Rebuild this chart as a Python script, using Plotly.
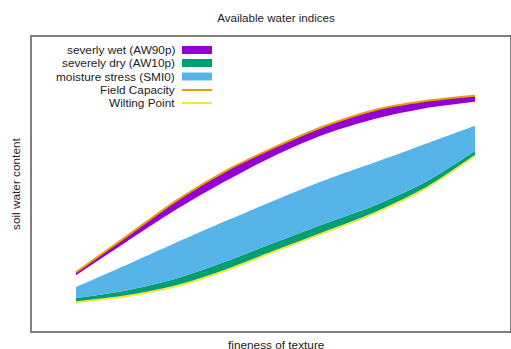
import plotly.graph_objects as go

# texture classes (index along x) and soil water content values
texture = [0, 1, 2, 3, 4, 5, 6, 7, 8]
field_capacity = [0.100, 0.160, 0.221, 0.272, 0.313, 0.349, 0.376, 0.391, 0.400]
aw90p = [0.095, 0.151, 0.206, 0.255, 0.299, 0.335, 0.361, 0.379, 0.390]
smi0 = [0.075, 0.112, 0.150, 0.187, 0.223, 0.257, 0.287, 0.318, 0.349]
aw10p = [0.056, 0.069, 0.089, 0.118, 0.151, 0.183, 0.214, 0.253, 0.306]
wilting_point = [0.049, 0.059, 0.076, 0.103, 0.136, 0.168, 0.201, 0.242, 0.298]

legend_names = ["severly wet (AW90p)", "severely dry (AW10p)", "moisture stress (SMI0)",
                "Field Capacity", "Wilting Point"]
colors = ["#9400d3", "#009e73", "#56b4e9", "#e69f00", "#f0e442"]

FONT = "Liberation Sans, Arial, sans-serif"
SH = dict(shape="spline", smoothing=0.8)
fig = go.Figure()

# purple band between AW90p and field capacity
fig.add_trace(go.Scatter(x=texture, y=aw90p, mode="lines", line=dict(width=0, **SH),
                         showlegend=False, hoverinfo="skip"))
fig.add_trace(go.Scatter(x=texture, y=field_capacity, mode="lines", line=dict(width=0, **SH),
                         fill="tonexty", fillcolor=colors[0], showlegend=False))
# green band between wilting point and AW10p
fig.add_trace(go.Scatter(x=texture, y=wilting_point, mode="lines", line=dict(width=0, **SH),
                         showlegend=False, hoverinfo="skip"))
fig.add_trace(go.Scatter(x=texture, y=aw10p, mode="lines", line=dict(width=0, **SH),
                         fill="tonexty", fillcolor=colors[1], showlegend=False))
# blue band between AW10p and SMI0
fig.add_trace(go.Scatter(x=texture, y=smi0, mode="lines", line=dict(width=0, **SH),
                         fill="tonexty", fillcolor=colors[2], showlegend=False))
# lines
fig.add_trace(go.Scatter(x=texture, y=field_capacity, mode="lines",
                         line=dict(width=2, color=colors[3], **SH), showlegend=False))
fig.add_trace(go.Scatter(x=texture, y=wilting_point, mode="lines",
                         line=dict(width=2, color=colors[4], **SH), showlegend=False))

# gnuplot-style legend: text right-aligned, sample on the right
L, R, T, B = 32, 510, 37, 331
def px(x):
    return (x - L) / (R - L)
def py(y):
    return (B - y) / (B - T)

rows = [50, 63, 76.5, 90, 103]
shapes = []
annotations = []
for i, (name, col, yy) in enumerate(zip(legend_names, colors, rows)):
    annotations.append(dict(x=px(177), y=py(yy), xref="paper", yref="paper",
                            text=name, showarrow=False, xanchor="right", yanchor="middle",
                            font=dict(family=FONT, size=11.8, color="#222")))
    if i < 3:
        shapes.append(dict(type="rect", xref="paper", yref="paper",
                           x0=px(182), x1=px(212), y0=py(yy - 4), y1=py(yy + 4),
                           fillcolor=col, line=dict(width=0)))
    else:
        shapes.append(dict(type="line", xref="paper", yref="paper",
                           x0=px(182), x1=px(212), y0=py(yy), y1=py(yy),
                           line=dict(color=col, width=2)))

# axis titles placed like gnuplot's
annotations.append(dict(x=px(276), y=py(345), xref="paper", yref="paper",
                        text="fineness of texture", showarrow=False,
                        xanchor="center", yanchor="middle",
                        font=dict(family=FONT, size=11.8, color="#222")))
annotations.append(dict(x=px(16), y=py(184), xref="paper", yref="paper",
                        text="soil water content", showarrow=False, textangle=-90,
                        xanchor="center", yanchor="middle",
                        font=dict(family=FONT, size=11.8, color="#222")))

fig.update_layout(
    width=511, height=349,
    margin=dict(l=L, r=511 - R, t=T, b=349 - B, autoexpand=False),
    paper_bgcolor="white", plot_bgcolor="white",
    title=dict(text="Available water indices", x=276 / 511, xanchor="center",
               y=1 - 18 / 349, yanchor="middle", automargin=False,
               font=dict(family=FONT, size=11.6, color="#222")),
    xaxis=dict(range=[-0.882, 8.702], showgrid=False, zeroline=False, automargin=False,
               showticklabels=False, ticks="", showline=True, mirror=True,
               linecolor="#808080", linewidth=1.5),
    yaxis=dict(range=[0, 0.5], showgrid=False, zeroline=False, automargin=False,
               showticklabels=False, ticks="", showline=True, mirror=True,
               linecolor="#808080", linewidth=1.5),
    shapes=shapes, annotations=annotations, showlegend=False,
)

fig.write_html("out.html", config={"displayModeBar": False},
               post_script="document.body.style.margin='0';document.body.style.overflow='hidden';")
